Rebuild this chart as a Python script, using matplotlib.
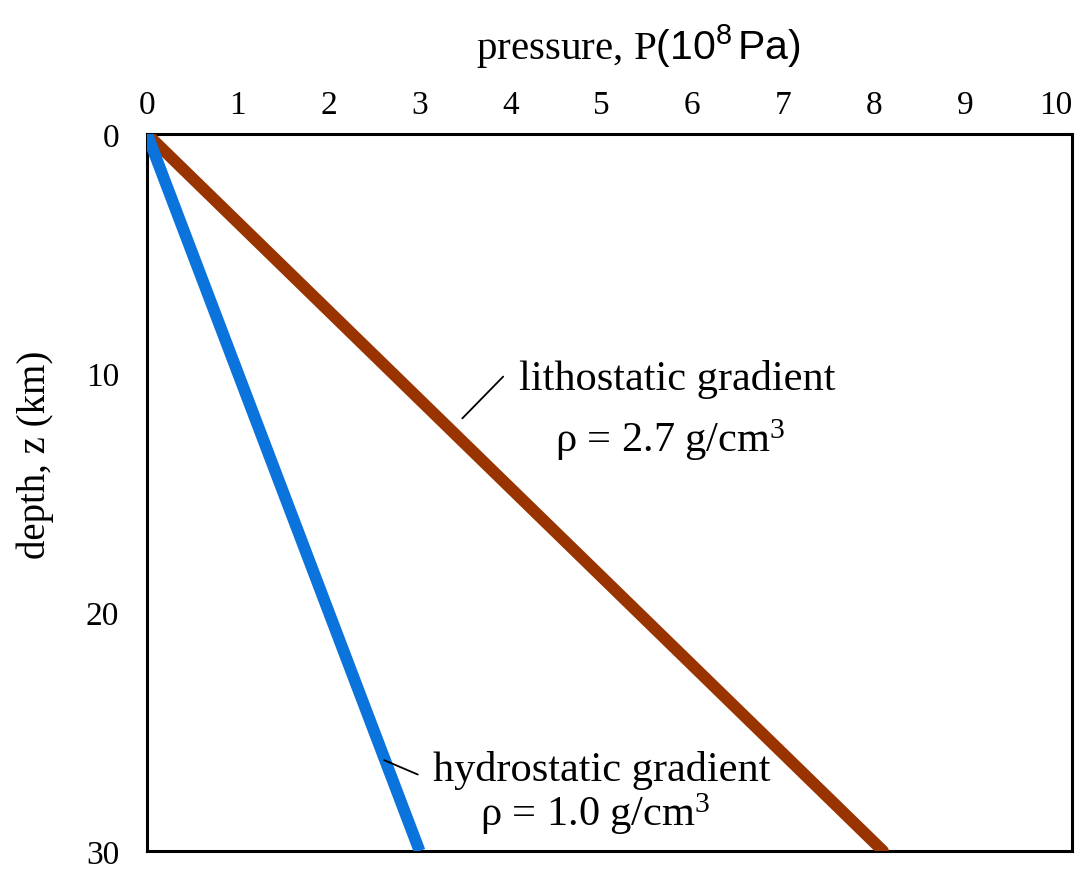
import matplotlib as mpl
import matplotlib.pyplot as plt

mpl.use('Agg')
plt.rcParams.update({
    'font.family': ['Liberation Serif', 'DejaVu Serif'],
    'mathtext.fontset': 'custom',
    'mathtext.rm': 'Liberation Serif',
    'mathtext.sf': 'Liberation Sans',
    'mathtext.it': 'Liberation Serif:italic',
})

# depth in km, pressure in 10^8 Pa
depth = [0, 30]
litho_pressure = [0, 8.1]
hydro_pressure = [0, 3.0]

x_ticks = [0, 1, 2, 3, 4, 5, 6, 7, 8, 9, 10]
y_ticks = [0, 10, 20, 30]

litho_color = "#993300"
hydro_color = "#0a73dc"

fig = plt.figure(figsize=(10.82, 8.70), dpi=100)
ax = fig.add_axes([147/1082, 18/870, 925/1082, 717/870])

ax.plot(litho_pressure, depth, color=litho_color, lw=8.5, solid_capstyle='round', zorder=3)
ax.plot(hydro_pressure, depth, color=hydro_color, lw=8.5, solid_capstyle='butt', zorder=3)

# box runs a bit past the last tick, as in the original
ax.set_xlim(0, 10.18)
ax.set_ylim(30, 0)
ax.xaxis.tick_top()
ax.xaxis.set_label_position('top')
ax.set_xticks(x_ticks)
ax.set_yticks(y_ticks)
ax.tick_params(length=0, labelsize=24)
ax.tick_params(axis='x', pad=10)
ax.tick_params(axis='y', pad=20)
for sp in ax.spines.values():
    sp.set_linewidth(2.2)

ax.set_xlabel(r"pressure, P$\mathsf{(10^8\,Pa)}$", fontsize=29.5)
ax.xaxis.set_label_coords(0.531, 1.105)
ax.set_ylabel("depth, z (km)", fontsize=28)
ax.yaxis.set_label_coords(-0.10, 0.554)

ax.text(4.09, 10.25, "lithostatic gradient", fontsize=30.5, ha='left', va='center')
ax.annotate("", xy=(3.47, 11.9), xytext=(3.92, 10.15),
            arrowprops=dict(arrowstyle='-', color='black', lw=1.3, shrinkA=0, shrinkB=0))
ax.text(5.76, 12.75, r"ρ = 2.7 g/cm$^3$", fontsize=30.5, ha='center', va='center')

ax.text(3.15, 26.6, "hydrostatic gradient", fontsize=30.5, ha='left', va='center')
ax.annotate("", xy=(2.61, 26.2), xytext=(2.98, 26.8),
            arrowprops=dict(arrowstyle='-', color='black', lw=1.3, shrinkA=0, shrinkB=0))
ax.text(4.93, 28.4, r"ρ = 1.0 g/cm$^3$", fontsize=30.5, ha='center', va='center')

plt.savefig("out.png", dpi=100)
